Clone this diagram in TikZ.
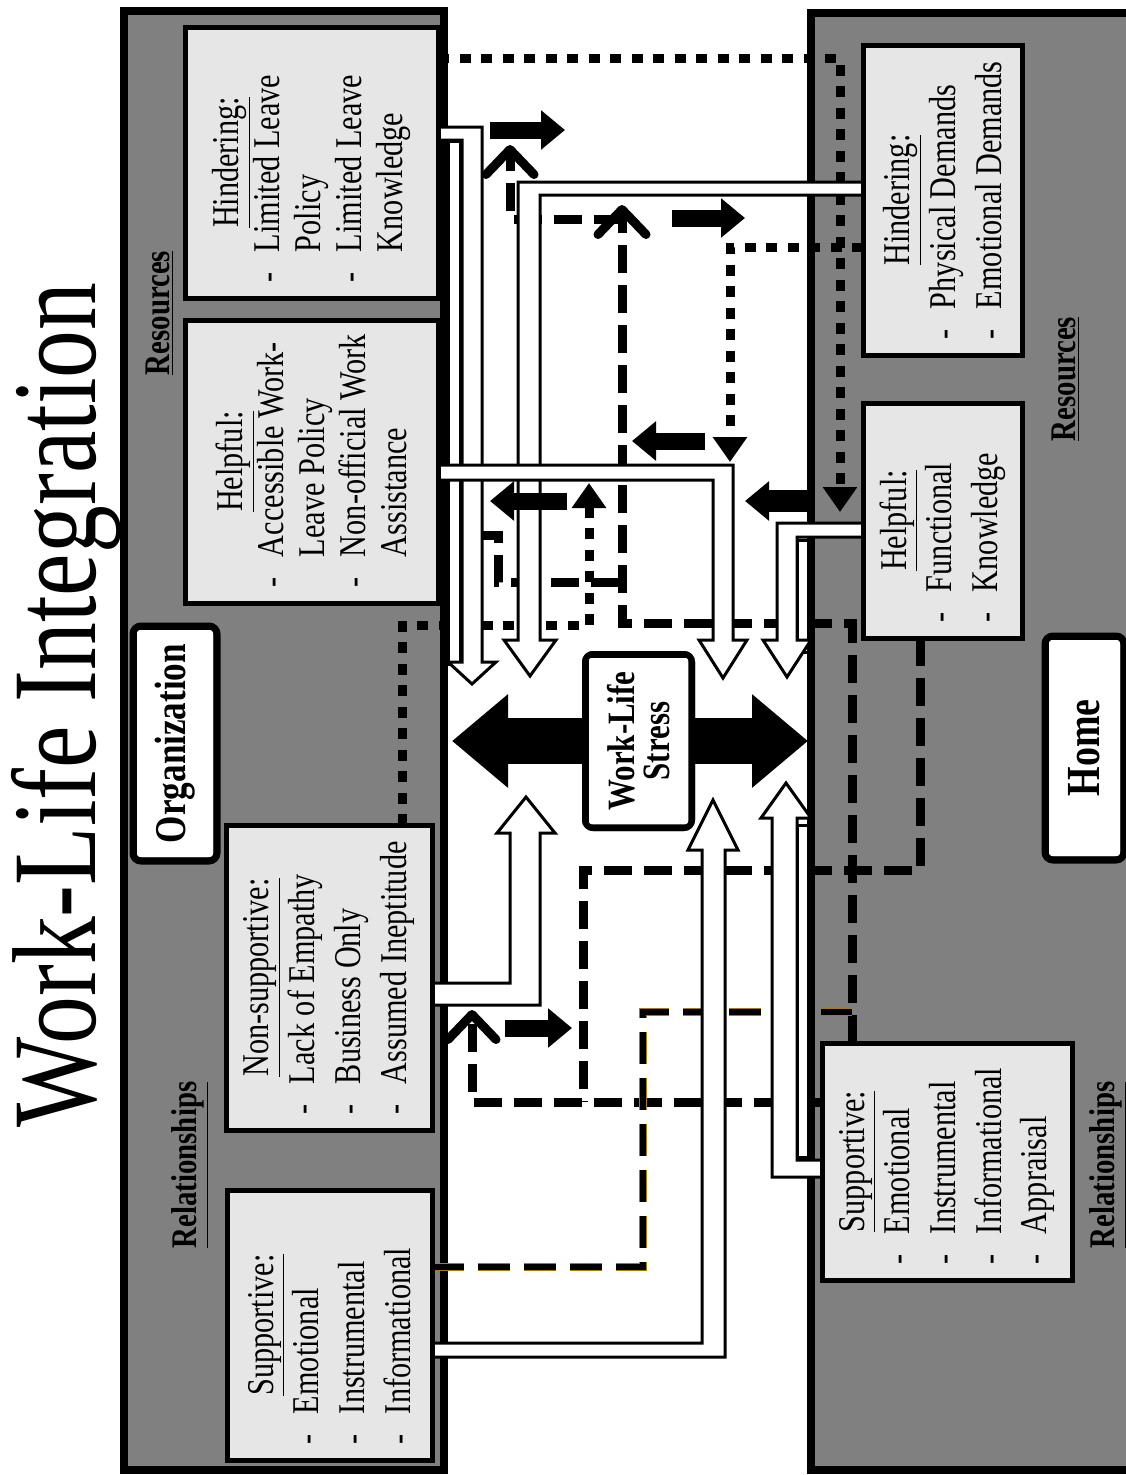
\documentclass[tikz,border=0pt]{standalone}
\usepackage{fontspec}
\setmainfont{Liberation Serif}[FakeStretch=0.8]
\usepackage{xcolor}
\usetikzlibrary{arrows.meta,positioning,fit}
\definecolor{wlgray}{RGB}{128,128,128}
\definecolor{wlbox}{RGB}{230,230,230}
\definecolor{wlgold}{RGB}{170,125,0}
\setlength{\parindent}{0pt}
\newcommand{\wlhead}[1]{{\centering\underline{#1}\par}}
\newcommand{\wlitem}[1]{\mbox{\makebox[6mm][l]{-}#1}\par}
\newcommand{\wlmore}[1]{\mbox{\hspace*{6mm}#1}\par}

\begin{document}
\begin{tikzpicture}[x=0.2mm, y=-0.2mm,
    panel/.style={draw, line width=1.6mm, fill=wlgray, inner sep=0pt},
    box/.style={draw, line width=1mm, fill=wlbox, inner sep=0pt},
    tag/.style={draw, line width=1.4mm, rounded corners=1.6mm, fill=white, inner sep=0pt},
    inner/.style={line width=0.3mm, rounded corners=0.6mm},
    txt/.style={rotate=90, inner sep=0pt, align=left, font=\fontsize{21.5}{26}\selectfont,
      execute at begin node={\spaceskip=0pt\xspaceskip=0pt}},
    lab/.style={rotate=90, inner sep=0pt, font=\fontsize{20.5}{24}\selectfont\bfseries},
    warrow/.style={draw, line width=0.6mm, fill=white},
    barrow/.style={line width=3.4mm, -{Triangle[length=4.8mm,width=7.6mm]}},
    dashln/.style={line width=1.8mm, dash pattern=on 5.6mm off 2.4mm},
    dotln/.style={line width=1.8mm, dash pattern=on 2.2mm off 2.1mm},
    goldln/.style={line width=1.4mm, dash pattern=on 6.4mm off 2.8mm},
    tri/.style={-{Triangle[length=5mm,width=6.6mm]}},
    barb/.style={-{Straight Barb[length=5mm,width=9.6mm,round]}}]
  \useasboundingbox (0,0) rectangle (1126,1475);

  \node[panel, fit={(124,11) (444,1470)}] (orgPanel) {};
  \node[panel, fit={(811,13) (1135,1470)}] (homePanel) {};
  \node[rotate=90, inner sep=0pt, font=\fontsize{68}{70}\selectfont] (title) at (66,705) {Work-Life Integration};

  % dotted and dashed links
  \draw[dotln, tri] (438,58) -- (840,58) -- (840,512);
  \draw[dotln, tri] (863,247) -- (730,247) -- (730,462);
  \draw[dotln, tri] (402,825) -- (402,625) -- (589,625) -- (589,483);
  \draw[dashln, barb] (852,1043) -- (852,623) -- (622,623) -- (622,205);
  \draw[dashln, barb] (622,219) -- (510,219) -- (510,145);
  \draw[dashln] (438,535) -- (498,535) -- (498,582) -- (622,582);
  \draw[dashln] (920,638) -- (920,870) -- (583,870) -- (583,1102);
  \draw[dashln, barb] (822,1102) -- (472,1102) -- (472,1010);
  \draw[goldln, wlgold, line width=1.7mm] (432,1267) -- (643,1267) -- (643,1012) -- (852,1012);
  \draw[goldln, line width=1.2mm] (432,1267) -- (643,1267) -- (643,1012) -- (852,1012);

  % white arrows
  \draw[warrow] (448,141) rectangle (460,664);
  \draw[warrow] (430,127) -- (482,127) -- (482,662) -- (496,662) -- (472,684) -- (448,662) -- (462,662) -- (462,140) -- (430,140) -- cycle;
  \draw[warrow] (870,182) -- (518,182) -- (518,640) -- (504,640) -- (530,676) -- (556,640) -- (540,640) -- (540,195) -- (870,195) -- cycle;
  \draw[warrow] (430,465) -- (733,465) -- (733,640) -- (747,640) -- (723,678) -- (699,640) -- (713,640) -- (713,480) -- (430,480) -- cycle;
  \draw[warrow] (797,540) rectangle (808,652);
  \draw[warrow] (870,523) -- (777,523) -- (777,640) -- (763,640) -- (787,677) -- (811,640) -- (797,640) -- (797,537) -- (870,537) -- cycle;
  \draw[warrow] (425,1005) -- (540,1005) -- (540,833) -- (555,833) -- (526,797) -- (497,833) -- (510,833) -- (510,983) -- (425,983) -- cycle;
  \draw[warrow] (425,1357) -- (725,1357) -- (725,850) -- (738,850) -- (713,800) -- (688,850) -- (702,850) -- (702,1343) -- (425,1343) -- cycle;
  \draw[warrow] (797,825) rectangle (808,1157);
  \draw[warrow] (830,1177) -- (772,1177) -- (772,818) -- (761,818) -- (786,783) -- (811,818) -- (797,818) -- (797,1160) -- (830,1160) -- cycle;

  % boxes
  \node[box, fit={(185,27) (438,298)}] (orgHind) {};
  \node[box, fit={(185,320) (438,603)}] (orgHelp) {};
  \node[box, fit={(226,825) (432,1130)}] (orgNonsup) {};
  \node[box, fit={(227,1190) (432,1460)}] (orgSup) {};
  \node[box, fit={(863,45) (1022,355)}] (homeHind) {};
  \node[box, fit={(863,403) (1022,638)}] (homeHelp) {};
  \node[box, fit={(822,1043) (1072,1280)}] (homeSup) {};

  \node[txt, text width=47.8mm, font=\fontsize{21.5}{23.3}\selectfont] (orgHindTxt) at (orgHind.center)
    {\wlhead{Hindering:}\wlitem{Limited Leave}\wlmore{Policy}\wlitem{Limited Leave}\wlmore{Knowledge}};
  \node[txt, text width=50.2mm, font=\fontsize{21.5}{23.3}\selectfont] (orgHelpTxt) at (orgHelp.center)
    {\wlhead{Helpful:}\wlitem{Accessible Work-}\wlmore{Leave Policy}\wlitem{Non-official Work}\wlmore{Assistance}};
  \node[txt, text width=54.6mm] (orgNonsupTxt) at (orgNonsup.center)
    {\wlhead{Non-supportive:}\wlitem{Lack of Empathy}\wlitem{Business Only}\wlitem{Assumed Ineptitude}};
  \node[txt, text width=47.6mm] (orgSupTxt) at (orgSup.center)
    {\wlhead{Supportive:}\wlitem{Emotional}\wlitem{Instrumental}\wlitem{Informational}};
  \node[txt, text width=55.6mm] (homeHindTxt) at (homeHind.center)
    {\wlhead{Hindering:}\wlitem{Physical Demands}\wlitem{Emotional Demands}};
  \node[txt, text width=40.6mm] (homeHelpTxt) at (homeHelp.center)
    {\wlhead{Helpful:}\wlitem{Functional}\wlitem{Knowledge}};
  \node[txt, text width=41mm] (homeSupTxt) at (homeSup.center)
    {\wlhead{Supportive:}\wlitem{Emotional}\wlitem{Instrumental}\wlitem{Informational}\wlitem{Appraisal}};

  \node[lab] (orgRes) at (160,313) {\underline{Resources}};
  \node[lab] (orgRel) at (190,1165) {\underline{Relationships}};
  \node[lab] (homeRes) at (1066,379) {\underline{Resources}};
  \node[lab] (homeRel) at (1108,1165) {\underline{Relationships}};

  \node[tag, fit={(133,626) (217,861)}] (orgTag) {};
  \draw[inner] ([shift={(1.3mm,1.3mm)}]orgTag.south west) rectangle ([shift={(-1.3mm,-1.3mm)}]orgTag.north east);
  \node[lab, font=\fontsize{25}{28}\selectfont\bfseries] (orgTagTxt) at (orgTag.center) {Organization};
  \node[tag, fit={(1045,636) (1124,860)}] (homeTag) {};
  \draw[inner] ([shift={(1.3mm,1.3mm)}]homeTag.south west) rectangle ([shift={(-1.3mm,-1.3mm)}]homeTag.north east);
  \node[lab, font=\fontsize{27}{30}\selectfont\bfseries] (homeTagTxt) at (homeTag.center) {Home};

  % central stress
  \node[tag, line width=1.2mm, fit={(585,654) (692,828)}] (stress) {};
  \draw[line width=9.2mm, -{Triangle[length=11.2mm,width=18mm]}] (stress.center) -- (452,741);
  \draw[line width=9.2mm, -{Triangle[length=11.2mm,width=18mm]}] (stress.center) -- (808,741);
  \node[tag, line width=1.2mm, fit={(585,654) (692,828)}] (stressBox) {};
  \draw[inner] ([shift={(1.2mm,1.2mm)}]stressBox.south west) rectangle ([shift={(-1.2mm,-1.2mm)}]stressBox.north east);
  \node[lab, align=center, font=\fontsize{22}{20}\selectfont\bfseries] (stressTxt) at (stressBox.center) {Work-Life\\Stress};

  % black direction arrows
  \draw[barrow] (490,130) -- (565,130);
  \draw[barrow] (672,218) -- (745,218);
  \draw[barrow] (705,441) -- (632,441);
  \draw[barrow, line width=4.4mm] (808,501) -- (745,501);
  \draw[barrow] (567,501) -- (490,501);
  \draw[barrow] (505,1028) -- (572,1028);
\end{tikzpicture}
\end{document}
